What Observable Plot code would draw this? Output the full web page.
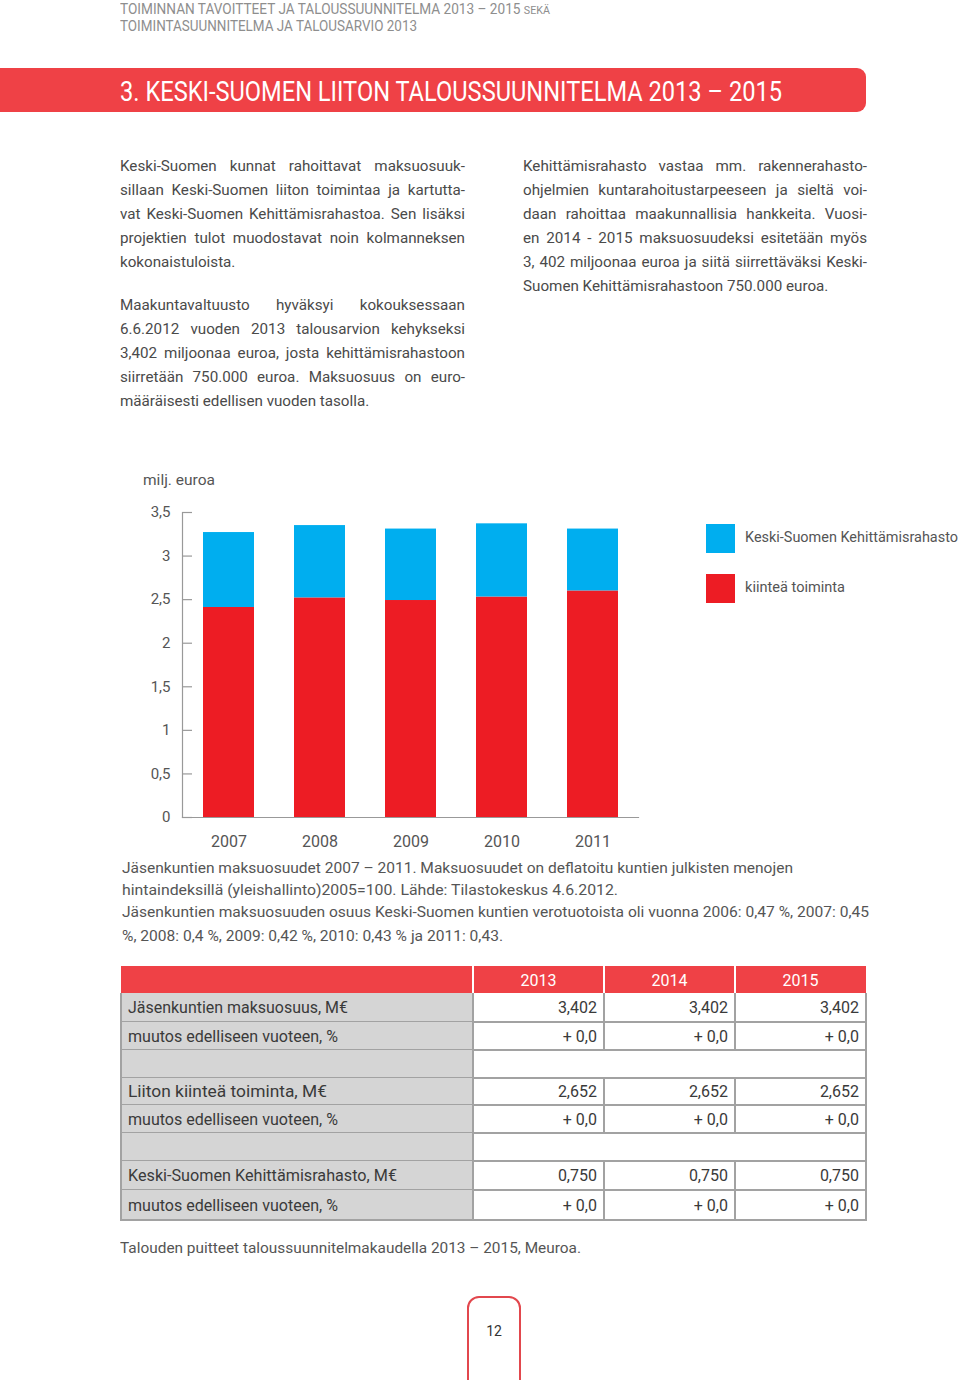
<!DOCTYPE html>
<html><head><meta charset="utf-8">
<script src="https://cdn.jsdelivr.net/npm/d3@7"></script>
<script src="https://cdn.jsdelivr.net/npm/@observablehq/plot@0.6"></script>
<style>
html,body{margin:0;padding:0;background:#fff;}
#page{position:relative;width:960px;height:1380px;overflow:hidden;font-family:Roboto,"Noto Sans",sans-serif;color:#4a4a4a;}
.a{position:absolute;white-space:nowrap;}
.fit{display:inline-block;transform-origin:0 50%;white-space:nowrap;}
.jl{position:absolute;font-size:15.5px;line-height:24px;transform-origin:0 50%;text-align:justify;text-align-last:justify;color:#4a4a4a;}
.jl.last{text-align-last:left;}
.cell{position:absolute;box-sizing:border-box;}
</style></head>
<body><div id="page"></div>
<script>
// ---------- data ----------
const years = ["2007", "2008", "2009", "2010", "2011"];
const kiintea = [2.41, 2.52, 2.49, 2.53, 2.60];
const rahasto = [0.86, 0.83, 0.82, 0.84, 0.71];
const series = ["kiinteä toiminta", "Keski-Suomen Kehittämisrahasto"];
const seriesColors = ["#ED1C24", "#00AEEF"];
const yTicks = [0, 0.5, 1, 1.5, 2, 2.5, 3, 3.5];

const tableYears = ["2013", "2014", "2015"];
const tableLabels = ["Jäsenkuntien maksuosuus, M€", "muutos edelliseen vuoteen, %", "", "Liiton kiinteä toiminta, M€", "muutos edelliseen vuoteen, %", "", "Keski-Suomen Kehittämisrahasto, M€", "muutos edelliseen vuoteen, %"];
const tableValues = [["3,402", "3,402", "3,402"], ["+ 0,0", "+ 0,0", "+ 0,0"], null, ["2,652", "2,652", "2,652"], ["+ 0,0", "+ 0,0", "+ 0,0"], null, ["0,750", "0,750", "0,750"], ["+ 0,0", "+ 0,0", "+ 0,0"]];

const leftPara1 = ["Keski-Suomen kunnat rahoittavat maksuosuuk-", "sillaan Keski-Suomen liiton toimintaa ja kartutta-", "vat Keski-Suomen Kehittämisrahastoa. Sen lisäksi", "projektien tulot muodostavat noin kolmanneksen", "kokonaistuloista."];
const leftPara2 = ["Maakuntavaltuusto hyväksyi kokouksessaan", "6.6.2012 vuoden 2013 talousarvion kehykseksi", "3,402 miljoonaa euroa, josta kehittämisrahastoon", "siirretään 750.000 euroa. Maksuosuus on euro-", "määräisesti edellisen vuoden tasolla."];
const rightPara = ["Kehittämisrahasto vastaa mm. rakennerahasto-", "ohjelmien kuntarahoitustarpeeseen ja sieltä voi-", "daan rahoittaa maakunnallisia hankkeita. Vuosi-", "en 2014 - 2015 maksuosuudeksi esitetään myös", "3, 402 miljoonaa euroa ja siitä siirrettäväksi Keski-", "Suomen Kehittämisrahastoon 750.000 euroa."];
const captionLines = ["Jäsenkuntien maksuosuudet 2007 – 2011. Maksuosuudet on deflatoitu kuntien julkisten menojen", "hintaindeksillä (yleishallinto)2005=100. Lähde: Tilastokeskus 4.6.2012.", "Jäsenkuntien maksuosuuden osuus Keski-Suomen kuntien verotuotoista oli vuonna 2006: 0,47 %, 2007: 0,45", "%, 2008: 0,4 %, 2009: 0,42 %, 2010: 0,43 % ja 2011: 0,43."];

// ---------- helpers ----------
const page = document.getElementById("page");
function text(x, cy, html, o = {}) {
  const size = o.size || 15, lh = o.lh || Math.round(size * 1.3);
  const d = document.createElement("div");
  d.className = "a";
  d.style.left = x + "px";
  d.style.top = (cy - lh / 2) + "px";
  d.style.fontSize = size + "px";
  d.style.lineHeight = lh + "px";
  d.style.color = o.color || "#4a4a4a";
  if (o.weight) d.style.fontWeight = o.weight;
  const s = document.createElement("span");
  s.className = "fit";
  if (o.w) s.dataset.w = o.w;
  s.innerHTML = html;
  d.appendChild(s);
  (o.parent || page).appendChild(d);
  return d;
}
const S0 = 0.98;
const justLines = [];
function para(x, cy0, w, lines) {
  lines.forEach((t, i) => {
    const d = document.createElement("div");
    d.className = "jl" + (i === lines.length - 1 ? " last" : "");
    d.style.left = x + "px";
    d.style.top = (cy0 + i * 24 - 12) + "px";
    d.textContent = t;
    d.dataset.w = w;
    page.appendChild(d);
    justLines.push(d);
  });
}
function layoutPara() {
  justLines.forEach(d => {
    const w = +d.dataset.w;
    d.style.transform = "";
    d.style.width = "auto";
    d.style.whiteSpace = "nowrap";
    const nat = d.getBoundingClientRect().width;
    const s = Math.min(S0, (w - 1) / nat);
    d.style.whiteSpace = "normal";
    d.style.width = (w / s) + "px";
    d.style.transform = `scaleX(${s.toFixed(4)})`;
  });
}
function box(x, y, w, h, style) {
  const d = document.createElement("div");
  d.className = "cell";
  Object.assign(d.style, {left: x + "px", top: y + "px", width: w + "px", height: h + "px"}, style);
  page.appendChild(d);
  return d;
}

// ---------- header ----------
text(120, 9, "TOIMINNAN TAVOITTEET JA TALOUSSUUNNITELMA 2013 – 2015 <span style='font-size:11px'>SEKÄ</span>", {size: 14, color: "#8e8e8e", w: 430});
text(120, 26, "TOIMINTASUUNNITELMA JA TALOUSARVIO 2013", {size: 14, color: "#8e8e8e", w: 297});
box(0, 68, 866, 44, {background: "#EF4146", borderRadius: "0 9px 9px 0"});
text(120, 92, "3. KESKI-SUOMEN LIITON TALOUSSUUNNITELMA 2013 – 2015", {size: 28, lh: 30, color: "#fff", w: 662});

// ---------- body ----------
para(120, 166, 345, leftPara1);
para(120, 305, 345, leftPara2);
para(523, 166, 344, rightPara);

// ---------- chart ----------
const data = years.flatMap((y, i) => [
  {year: y, series: series[0], value: kiintea[i]},
  {year: y, series: series[1], value: rahasto[i]}
]);
const chart = Plot.plot({
  width: 660, height: 367,
  marginLeft: 182, marginRight: 22, marginTop: 22, marginBottom: 40,
  style: {fontFamily: "Roboto, sans-serif", fontSize: "15px", color: "#555", background: "transparent", overflow: "visible"},
  x: {domain: years, paddingInner: 0.44, paddingOuter: 0.22, label: null},
  y: {domain: [0, 3.5], label: null},
  color: {domain: series, range: seriesColors},
  marks: [
    Plot.barY(data, {x: "year", y: "value", fill: "series"}),
    Plot.frame({anchor: "left", stroke: "#999", strokeWidth: 1.2}),
    Plot.frame({anchor: "bottom", stroke: "#999", strokeWidth: 1.2}),
    Plot.tickY(yTicks, {y: d => d, insetRight: 446, stroke: "#999", strokeWidth: 1.2}),
    Plot.axisY({ticks: yTicks, tickSize: 0, tickPadding: 12, fontSize: 15, tickFormat: d => String(d).replace(".", ",")}),
    Plot.axisX({tickSize: 0, tickPadding: 18, fontSize: 16})
  ]
});
const wrap = document.createElement("div");
wrap.style.position = "absolute"; wrap.style.left = "0px"; wrap.style.top = "490px";
wrap.appendChild(chart);
page.appendChild(wrap);
text(143, 480, "milj. euroa", {size: 15, color: "#555", w: 72});

// legend
box(706, 524, 29, 29, {background: seriesColors[1]});
box(706, 574, 29, 29, {background: seriesColors[0]});
text(745, 537, series[1], {size: 14, color: "#555", w: 213});
text(745, 587, series[0], {size: 14, color: "#555", w: 100});

// caption
const capY = [868, 890, 912, 936];
const capW = [671, 496, 747, 381];
captionLines.forEach((t, i) => text(122, capY[i], t, {size: 15, color: "#555", w: capW[i]}));

// ---------- table ----------
const tx = 121, labW = 352, colW = 131;
const rowTops = [993, 1022, 1050, 1078, 1105, 1133, 1161, 1190, 1220];
const lineC = "#a2a2a2";
box(tx, 966, labW + 3 * colW, 27, {background: "#EF4146"});
tableYears.forEach((y, j) => {
  box(tx + labW + j * colW - 1, 966, 2, 27, {background: "#fff"});
  const d = text(tx + labW + j * colW, 980, y, {size: 16, color: "#fff"});
  d.style.width = colW + "px"; d.style.textAlign = "center";
});
const labFitW = [220, 210, 0, 199, 210, 0, 269, 210];
tableLabels.forEach((lab, i) => {
  const top = rowTops[i], h = rowTops[i + 1] - top;
  box(tx, top, labW, h, {background: "#d5d5d5"});
  if (lab) text(128, top + h / 2, lab, {size: 16, color: "#3a3a3a", w: labFitW[i]});
  const vals = tableValues[i];
  if (vals) {
    vals.forEach((v, j) => {
      const d = text(tx + labW + j * colW, top + h / 2, v, {size: 16, color: "#3a3a3a"});
      d.style.width = (colW - 7) + "px"; d.style.textAlign = "right";
      box(tx + labW + (j + 1) * colW - 0.75, top, 1.5, h, {background: lineC});
    });
  } else {
    box(tx + labW + 3 * colW - 0.75, top, 1.5, h, {background: lineC});
  }
  box(tx - 0.75, top, 1.5, h, {background: lineC});
  box(tx + labW - 0.75, top, 1.5, h, {background: lineC});
  box(tx - 0.75, rowTops[i + 1] - 0.75, labW + 3 * colW + 1.5, 1.5, {background: lineC});
});
text(120, 1248, "Talouden puitteet taloussuunnitelmakaudella 2013 – 2015, Meuroa.", {size: 15, color: "#555", w: 461});

// page number
box(467, 1296, 54, 120, {border: "2px solid #E2474D", borderRadius: "12px 12px 0 0", background: "#fff"});
const pn = text(467, 1331, "12", {size: 14, color: "#333"});
pn.style.width = "54px"; pn.style.textAlign = "center";

// ---------- fit text widths ----------
function fitAll() {
  document.querySelectorAll(".fit[data-w]").forEach(s => {
    s.style.transform = "";
    const w = s.getBoundingClientRect().width;
    if (w > 0) s.style.transform = `scaleX(${(+s.dataset.w / w).toFixed(4)})`;
  });
  layoutPara();
}
fitAll();
if (document.fonts && document.fonts.ready) document.fonts.ready.then(fitAll);
</script>
</body></html>
